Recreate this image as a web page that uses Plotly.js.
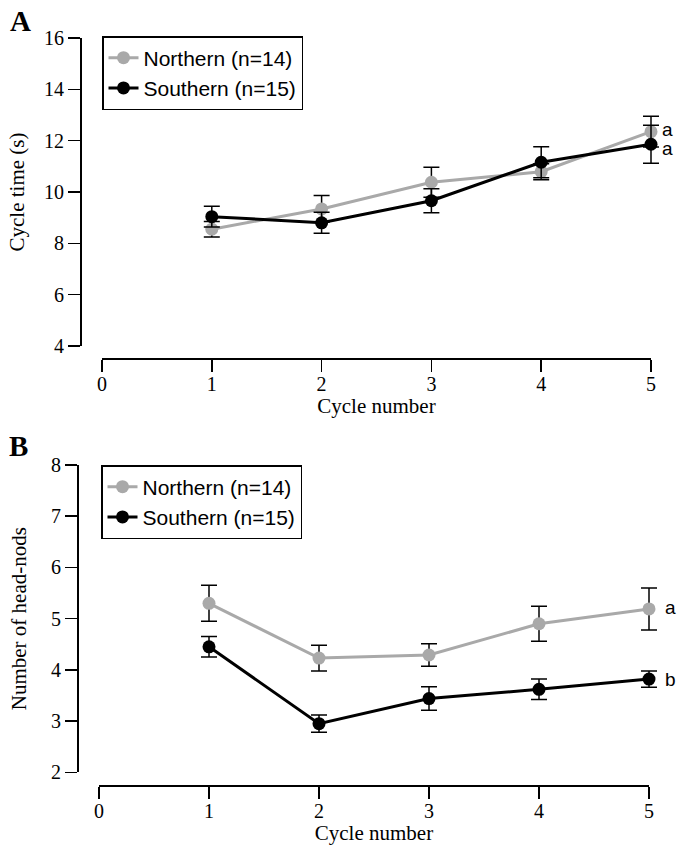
<!DOCTYPE html>
<html>
<head>
<meta charset="utf-8">
<script src="https://cdn.plot.ly/plotly-3.0.1.min.js"></script>
<style>html,body{margin:0;padding:0;background:#fff;}#chart{width:679px;height:848px;}</style>
</head>
<body>
<div id="chart"></div>
<script>
// ---- data ----
var cycles = [1, 2, 3, 4, 5];
var xTickVals = [0, 1, 2, 3, 4, 5];
var seriesNames = ["Northern (n=14)", "Southern (n=15)"];

var cycleTimeNorthern = [8.55, 9.34, 10.38, 10.79, 12.35];
var cycleTimeNorthernErr = [0.30, 0.52, 0.58, 0.31, 0.60];
var cycleTimeSouthern = [9.04, 8.80, 9.66, 11.16, 11.86];
var cycleTimeSouthernErr = [0.40, 0.41, 0.47, 0.60, 0.74];

var headNodsNorthern = [5.30, 4.23, 4.29, 4.90, 5.19];
var headNodsNorthernErr = [0.35, 0.25, 0.22, 0.34, 0.41];
var headNodsSouthern = [4.45, 2.95, 3.44, 3.62, 3.82];
var headNodsSouthernErr = [0.20, 0.17, 0.23, 0.20, 0.16];

var yTicksA = [4, 6, 8, 10, 12, 14, 16];
var yTicksB = [2, 3, 4, 5, 6, 7, 8];

var sigLabelsA = [{text: "a", y: 12.45}, {text: "a", y: 11.71}];
var sigLabelsB = [{text: "a", y: 5.21}, {text: "b", y: 3.82}];

// ---- styles ----
var GRAY = "#a9a9a9";
var BLACK = "#000000";
var serif = "Liberation Serif, Times New Roman, serif";
var sans = "Liberation Sans, Arial, sans-serif";
var W = 679, H = 848;

// pixel geometry of the two panels (x axis 0..5 spans x0..x5)
var panelA = {x0: 102, x5: 651, yTop: 38, yBot: 346, yAxisX: 80, xAxisY: 358};
var panelB = {x0: 99, x5: 649, yTop: 465, yBot: 772.3, yAxisX: 77, xAxisY: 785};
var PAD_L = 0.3, PAD_R = 0.25; // extra data-axis room so caps at x=5 are not clipped

function trace(y, err, name, color, xa, ya, legend) {
  return {
    x: cycles, y: y, name: name, type: "scatter", mode: "lines+markers",
    xaxis: xa, yaxis: ya, legend: legend, cliponaxis: false,
    line: {color: color, width: 3},
    marker: {color: color, size: 13},
    error_y: {type: "data", array: err, visible: true, color: BLACK, thickness: 1.5, width: 8}
  };
}
// draws nothing; only makes Plotly render the visible 0..5 axis of a panel
function axisCarrier(y, xa, ya) {
  return {x: cycles, y: y, type: "scatter", mode: "none", xaxis: xa, yaxis: ya,
          showlegend: false, hoverinfo: "skip"};
}

var data = [
  axisCarrier(cycleTimeNorthern, "x", "y"),
  axisCarrier(headNodsNorthern, "x2", "y2"),
  trace(cycleTimeNorthern, cycleTimeNorthernErr, seriesNames[0], GRAY, "x3", "y", "legend"),
  trace(cycleTimeSouthern, cycleTimeSouthernErr, seriesNames[1], BLACK, "x3", "y", "legend"),
  trace(headNodsNorthern, headNodsNorthernErr, seriesNames[0], GRAY, "x4", "y2", "legend2"),
  trace(headNodsSouthern, headNodsSouthernErr, seriesNames[1], BLACK, "x4", "y2", "legend2")
];

function xAxis(p) {
  return {
    domain: [p.x0 / W, p.x5 / W], range: [0, 5], anchor: "free", position: 1 - p.xAxisY / H,
    tickvals: xTickVals, ticktext: xTickVals.map(String),
    ticks: "outside", ticklen: 12, tickwidth: 1.5, tickcolor: BLACK,
    showline: true, linecolor: BLACK, linewidth: 1.5, ticklabelstandoff: -5,
    showgrid: false, zeroline: false, automargin: false,
    tickfont: {family: serif, size: 20, color: BLACK},
    title: {text: "Cycle number", font: {family: serif, size: 21, color: BLACK}, standoff: 4}
  };
}
function dataXAxis(p) {
  var s = (p.x5 - p.x0) / 5;
  return {
    domain: [(p.x0 - PAD_L * s) / W, (p.x5 + PAD_R * s) / W], range: [-PAD_L, 5 + PAD_R],
    anchor: "free", position: 1 - p.xAxisY / H, visible: false,
    showgrid: false, zeroline: false, automargin: false
  };
}
function yAxis(p, range, ticks, title, standoff) {
  return {
    domain: [1 - p.yBot / H, 1 - p.yTop / H], range: range, anchor: "free", position: p.yAxisX / W,
    tickvals: ticks, ticktext: ticks.map(String),
    ticks: "outside", ticklen: 12, tickwidth: 1.5, tickcolor: BLACK,
    showline: true, linecolor: BLACK, linewidth: 1.5,
    showgrid: false, zeroline: false, automargin: false,
    tickfont: {family: serif, size: 20, color: BLACK},
    title: {text: title, font: {family: serif, size: 21, color: BLACK}, standoff: standoff}
  };
}

var annotations = [
  {text: "<b>A</b>", xref: "paper", yref: "paper", x: 20 / W, y: 1 - 21 / H, xanchor: "center", yanchor: "middle",
   showarrow: false, font: {family: serif, size: 29, color: BLACK}},
  {text: "<b>B</b>", xref: "paper", yref: "paper", x: 18 / W, y: 1 - 446 / H, xanchor: "center", yanchor: "middle",
   showarrow: false, font: {family: serif, size: 29, color: BLACK}}
];
sigLabelsA.forEach(function (s) {
  annotations.push({text: s.text, xref: "x3", yref: "y", x: 5, y: s.y, xanchor: "left", yanchor: "middle",
    xshift: 9, showarrow: false, font: {family: sans, size: 19, color: BLACK}});
});
sigLabelsB.forEach(function (s) {
  annotations.push({text: s.text, xref: "x4", yref: "y2", x: 5, y: s.y, xanchor: "left", yanchor: "middle",
    xshift: 14, showarrow: false, font: {family: sans, size: 19, color: BLACK}});
});

var legendStyle = function (x, y) {
  return {
    x: x, y: y, xanchor: "left", yanchor: "top", xref: "paper", yref: "paper",
    bgcolor: "#ffffff", bordercolor: BLACK, borderwidth: 1.5,
    font: {family: sans, size: 21, color: BLACK}, itemwidth: 30
  };
};

var layout = {
  width: W, height: H,
  margin: {l: 0, r: 0, t: 0, b: 0},
  paper_bgcolor: "#ffffff", plot_bgcolor: "rgba(0,0,0,0)",
  showlegend: true,
  xaxis: xAxis(panelA),
  yaxis: yAxis(panelA, [4, 16], yTicksA, "Cycle time (s)", 12),
  xaxis2: xAxis(panelB),
  yaxis2: yAxis(panelB, [2, 8], yTicksB, "Number of head-nods", 17),
  xaxis3: dataXAxis(panelA),
  xaxis4: dataXAxis(panelB),
  legend: legendStyle(102 / W, 1 - 36 / H),
  legend2: legendStyle(101 / W, 1 - 465 / H),
  annotations: annotations
};

Plotly.newPlot("chart", data, layout, {displayModeBar: false, staticPlot: true});
</script>
</body>
</html>
